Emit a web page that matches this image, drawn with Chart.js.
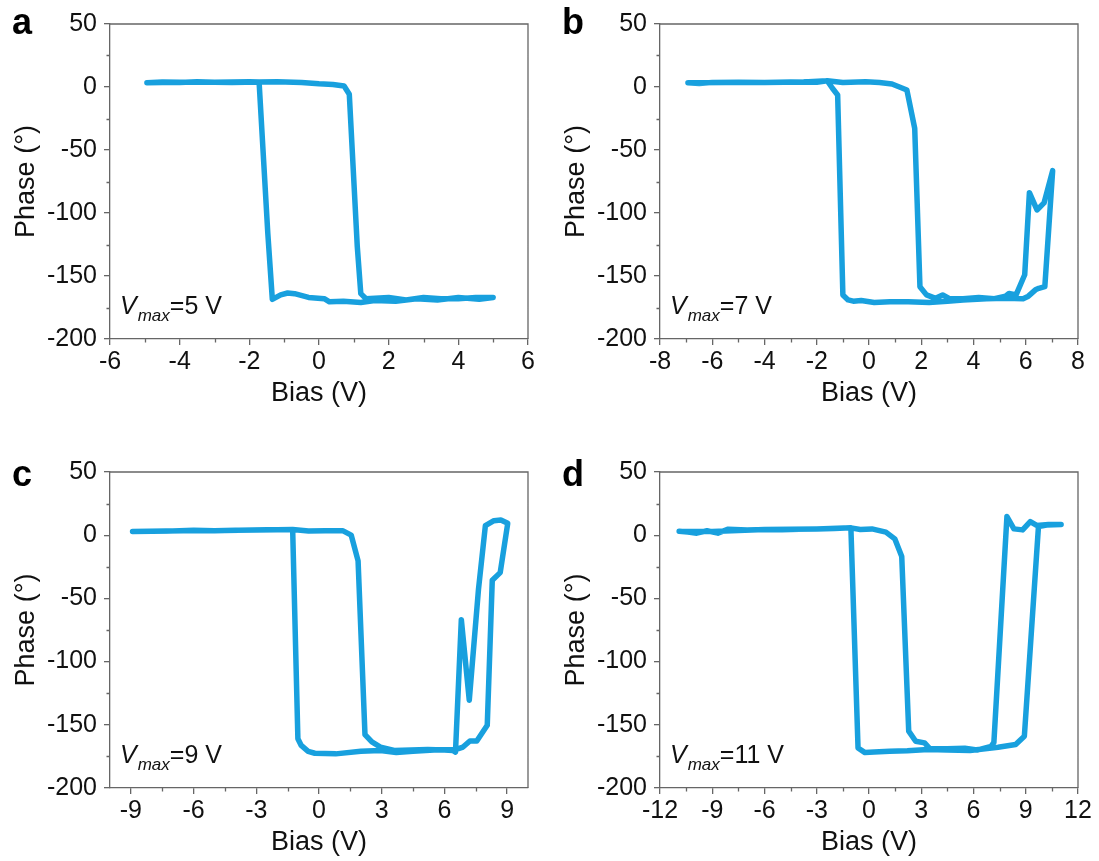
<!DOCTYPE html>
<html>
<head>
<meta charset="utf-8">
<script src="https://cdn.jsdelivr.net/npm/chart.js@4.4.1/dist/chart.umd.min.js"></script>
<style>
  body { margin: 0; background: #fff; width: 1099px; height: 861px; position: relative; overflow: hidden; }
  canvas { position: absolute; }
</style>
</head>
<body>
<canvas id="panelA" width="549" height="412" style="left:0;top:0"></canvas>
<canvas id="panelB" width="549" height="412" style="left:550px;top:0"></canvas>
<canvas id="panelC" width="549" height="413" style="left:0;top:448px"></canvas>
<canvas id="panelD" width="549" height="413" style="left:550px;top:448px"></canvas>
<script>
// ---- data (bias in V, phase in degrees) ----
const biasA = [-4.94, -4.5, -4.0, -3.5, -3.0, -2.5, -2.0, -1.72, -1.2, -0.5, 0.0, 0.4, 0.72, 0.87, 1.1, 1.2, 1.35, 2.0, 2.5, 3.0, 3.5, 4.0, 4.5, 5.0,
  4.6, 4.0, 3.4, 2.8, 2.2, 1.6, 1.2, 0.7, 0.3, 0.15, -0.3, -0.7, -0.9, -1.1, -1.34, -1.47, -1.72, -2.5, -3.5, -4.5, -4.94];
const phaseA = [3.4, 4.0, 3.5, 4.2, 3.8, 4.0, 4.2, 4.0, 4.2, 3.6, 2.5, 2.0, 0.8, -5.8, -127, -164, -168, -167, -169, -167, -168, -168, -167, -167,
  -168.5, -167, -169, -168, -170, -169.5, -171, -170, -170.5, -168, -167, -164, -163.5, -165, -168.5, -116, 4.0, 3.5, 4.0, 3.5, 3.4];

const biasB = [-6.93, -6.5, -6.0, -5.0, -4.0, -3.0, -2.0, -1.6, -1.0, -0.13, 0.4, 0.88, 1.45, 1.75, 1.95, 2.2, 2.55, 2.82, 3.08, 3.6, 4.2, 4.8, 5.23, 5.36, 5.63, 5.96, 6.14, 6.43, 6.7, 7.03,
  6.73, 6.5, 6.37, 6.1, 5.9, 5.23, 4.5, 3.6, 3.0, 2.3, 1.5, 0.8, 0.2, -0.3, -0.6, -0.8, -1.0, -1.2, -1.4, -1.6, -2.5, -4.0, -5.5, -6.93];
const phaseB = [3.4, 2.8, 3.5, 3.8, 3.6, 4.0, 3.8, 5.0, 3.5, 4.2, 3.6, 2.4, -2.4, -32.8, -158.5, -165, -167.7, -165, -168, -168, -167, -168, -166, -163.8, -165, -149, -83.9, -97.6, -92, -66.4,
  -158.5, -159.8, -161, -166, -168, -167.7, -168, -169, -170, -171, -170.5, -170.5, -171, -169.5, -170, -169, -165, -6.3, -1.0, 5.0, 4.0, 3.6, 3.5, 3.4];

const biasC = [-8.92, -8.0, -7.0, -6.0, -5.0, -4.0, -3.0, -2.0, -1.26, -0.5, 0.3, 1.13, 1.54, 1.87, 2.2, 2.53, 2.94, 3.6, 4.4, 5.2, 6.0, 6.4, 6.53, 6.81, 7.19, 7.63, 7.96, 8.37, 8.7, 9.03,
  8.67, 8.29, 8.05, 7.55, 7.22, 6.89, 6.56, 5.5, 4.5, 3.7, 2.94, 2.0, 0.8, -0.2, -0.52, -0.85, -1.01, -1.26, -2.5, -4.5, -6.5, -8.92];
const phaseC = [3.0, 3.2, 3.4, 4.0, 3.6, 3.9, 4.2, 4.3, 4.5, 3.4, 3.6, 3.6, 0.1, -20.3, -157.8, -163.6, -167.6, -170.3, -170, -169.5, -170, -170.3, -171.6, -66.8, -130.5, -42.9, 7.5, 11.5, 12, 9.4,
  -29.6, -35.7, -150.4, -162.8, -162.8, -167.6, -169.5, -170, -171, -172, -170.3, -171, -173, -172.5, -171, -166.3, -161, 4.5, 4.3, 3.8, 3.6, 3.0];

const biasD = [-10.9, -10.4, -9.89, -9.3, -8.68, -8.08, -7.0, -6.0, -5.0, -4.0, -3.0, -2.0, -1.04, -0.5, 0.17, 0.97, 1.48, 1.88, 2.28, 2.68, 3.19, 3.49, 4.5, 5.5, 6.2, 7.01, 7.17, 7.92, 8.32, 8.82, 9.26, 9.63, 10.3, 11.03,
  10.2, 9.73, 8.92, 8.42, 7.41, 5.8, 4.5, 3.39, 2.2, 1.18, 0.3, -0.23, -0.63, -1.04, -3.0, -6.0, -9.0, -10.9];
const phaseD = [3.2, 2.5, 1.6, 3.5, 1.6, 4.8, 4.2, 4.5, 4.3, 4.8, 5.0, 5.3, 5.8, 4.5, 5.0, 2.4, -2.9, -16.9, -155, -163, -164.3, -168.8, -169, -168.5, -170, -167, -164, 14.8, 5.0, 4.2, 10.8, 7.7, 8.5, 8.5,
  8.0, 6.9, -159, -165.6, -167.7, -170.4, -170, -169.6, -170.5, -170.9, -171.5, -172, -168.3, 5.8, 5.0, 4.5, 3.0, 3.2];

// axis ticks
const phaseTicksMinor = [-175, -125, -75, -25, 25];
const biasTicksA = [-6, -4, -2, 0, 2, 4, 6];
const biasMinorA = [-5, -3, -1, 1, 3, 5];
const biasTicksB = [-8, -6, -4, -2, 0, 2, 4, 6, 8];
const biasMinorB = [-7, -5, -3, -1, 1, 3, 5, 7];
const biasTicksC = [-9, -6, -3, 0, 3, 6, 9];
const biasMinorC = [-7.5, -4.5, -1.5, 1.5, 4.5, 7.5];
const biasTicksD = [-12, -9, -6, -3, 0, 3, 6, 9, 12];
const biasMinorD = [-10.5, -7.5, -4.5, -1.5, 1.5, 4.5, 7.5, 10.5];

const LINE = '#18a0de';
const AXIS = '#666';
const FONT = "'Liberation Sans', Arial, Helvetica, sans-serif";

Chart.defaults.font.family = FONT;
Chart.defaults.color = '#111';

// frame on top/right, minor ticks, panel letter and Vmax label
const decorations = {
  id: 'decorations',
  afterDraw(chart, args, opts) {
    const { ctx, chartArea: a, scales } = chart;
    ctx.save();
    ctx.strokeStyle = AXIS;
    ctx.lineWidth = 1.3;
    ctx.beginPath();
    ctx.moveTo(a.left, a.top); ctx.lineTo(a.right, a.top); ctx.lineTo(a.right, a.bottom);
    opts.minorX.forEach(v => {
      const x = Math.round(scales.x.getPixelForValue(v)) + 0.5;
      ctx.moveTo(x, a.bottom); ctx.lineTo(x, a.bottom + 3.5);
    });
    phaseTicksMinor.forEach(v => {
      const y = Math.round(scales.y.getPixelForValue(v)) + 0.5;
      ctx.moveTo(a.left, y); ctx.lineTo(a.left - 3.5, y);
    });
    ctx.stroke();

    ctx.fillStyle = '#000';
    ctx.textBaseline = 'alphabetic';
    ctx.textAlign = 'left';
    ctx.font = 'bold 36px ' + FONT;
    ctx.fillText(opts.letter, 12, opts.letterY);

    let x = a.left + 10;
    const base = a.bottom - 25;
    ctx.fillStyle = '#111';
    ctx.font = 'italic 25px ' + FONT;
    ctx.fillText('V', x, base);
    x += ctx.measureText('V').width + 1;
    ctx.font = 'italic 17px ' + FONT;
    ctx.fillText('max', x, base + 7);
    x += ctx.measureText('max').width;
    ctx.font = '25px ' + FONT;
    ctx.fillText(opts.vmax, x, base);
    ctx.restore();
  }
};

function makePanel(id, bias, phase, xMin, xMax, majors, minors, letter, letterY, vmax) {
  const pts = bias.map((b, i) => ({ x: b, y: phase[i] }));
  return new Chart(document.getElementById(id), {
    type: 'scatter',
    data: {
      datasets: [{
        data: pts,
        showLine: true,
        borderColor: LINE,
        borderWidth: 5.5,
        pointRadius: 0,
        tension: 0,
        borderJoinStyle: 'round',
        borderCapStyle: 'round'
      }]
    },
    options: {
      responsive: false,
      animation: false,
      layout: { padding: { left: 0, top: 24, right: 21, bottom: 0 } },
      plugins: {
        legend: { display: false },
        tooltip: { enabled: false },
        decorations: { minorX: minors, letter, letterY, vmax }
      },
      scales: {
        x: {
          type: 'linear',
          min: xMin,
          max: xMax,
          afterBuildTicks: s => { s.ticks = majors.map(v => ({ value: v })); },
          afterFit: s => { s.height = 73; },
          grid: { drawOnChartArea: false, drawTicks: true, tickLength: 6, color: AXIS, lineWidth: 1.3 },
          border: { display: true, color: AXIS, width: 1.3 },
          ticks: { font: { size: 25 }, padding: 2, maxRotation: 0, autoSkip: false, color: '#111' },
          title: { display: true, text: 'Bias (V)', font: { size: 27 }, padding: { top: 0, bottom: 2 }, color: '#111' }
        },
        y: {
          min: -200,
          max: 50,
          ticks: { stepSize: 50, font: { size: 25 }, padding: 7, color: '#111' },
          afterFit: s => { s.width = 110; },
          grid: { drawOnChartArea: false, drawTicks: true, tickLength: 6, color: AXIS, lineWidth: 1.3 },
          border: { display: true, color: AXIS, width: 1.3 },
          title: { display: true, text: 'Phase (°)', font: { size: 27 }, padding: { top: 10, bottom: 0 }, color: '#111' }
        }
      }
    },
    plugins: [decorations]
  });
}

makePanel('panelA', biasA, phaseA, -6, 6, biasTicksA, biasMinorA, 'a', 34, '=5 V');
makePanel('panelB', biasB, phaseB, -8, 8, biasTicksB, biasMinorB, 'b', 34, '=7 V');
makePanel('panelC', biasC, phaseC, -10, 10, biasTicksC, biasMinorC, 'c', 38, '=9 V');
makePanel('panelD', biasD, phaseD, -12, 12, biasTicksD, biasMinorD, 'd', 38, '=11 V');
</script>
</body>
</html>
